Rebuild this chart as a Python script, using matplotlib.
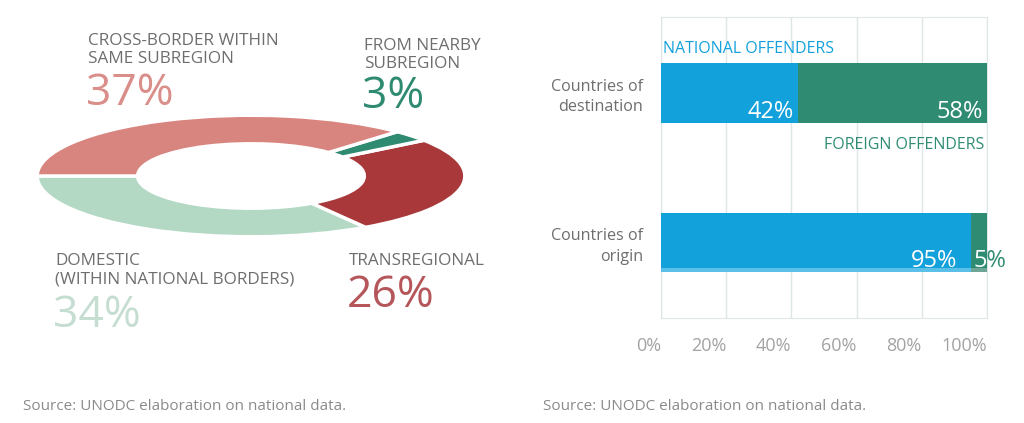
import matplotlib
matplotlib.use("Agg")
from matplotlib import pyplot as plt

plt.rcParams['font.family'] = ['Open Sans', 'DejaVu Sans']

W, H = 1024, 423

# Donut data (share of detected victims by flow)
flows = ['DOMESTIC', 'TRANSREGIONAL', 'FROM NEARBY SUBREGION', 'CROSS-BORDER WITHIN SAME SUBREGION']
shares = [34, 26, 3, 37]
flow_colors = ['#B3D8C4', '#A8383A', '#2E8A70', '#D9857F']

# Bar data
groups = ['Countries of\ndestination', 'Countries of\norigin']
national = [42, 95]
foreign = [58, 5]
ticks = [0, 20, 40, 60, 80, 100]

BLUE = '#13A1DC'
GREEN = '#2F8C73'
GRAY = '#6E6E6E'


def px(x, y):
    return x / W, 1 - y / H


fig = plt.figure(figsize=(W / 100, H / 100), dpi=100)
fig.patch.set_facecolor('white')

# ---- donut (squashed pie) ----
l, t, r, b = 35, 114, 467, 238
ax1 = fig.add_axes([l / W, 1 - b / H, (r - l) / W, (b - t) / H])
ax1.pie(shares, colors=flow_colors, startangle=180, counterclock=True,
        radius=1, wedgeprops=dict(width=0.47, edgecolor='white', linewidth=2.5))
ax1.set_aspect('auto')
ax1.set_xlim(-1.01, 1.01)
ax1.set_ylim(-1.02, 1.02)
ax1.axis('off')

def lab(x, y, s, size=12.3, color=GRAY):
    fig.text(*px(x, y), s, fontsize=size, color=color, va='baseline', ha='left')

lab(88, 45, 'CROSS-BORDER WITHIN')
lab(88, 63, 'SAME SUBREGION')
lab(86, 105, '%d%%' % shares[3], 32, '#D98E89')
lab(364, 50, 'FROM NEARBY')
lab(364, 68, 'SUBREGION')
lab(362, 108, '%d%%' % shares[2], 32, '#2E8A70')
lab(55, 265, 'DOMESTIC')
lab(55, 283, '(WITHIN NATIONAL BORDERS)')
lab(53, 327, '%d%%' % shares[0], 32, '#C6DDD2')
lab(349, 265, 'TRANSREGIONAL')
lab(347, 307, '%d%%' % shares[1], 32, '#B5565A')

# ---- stacked bars ----
l, t, r, b = 661, 17, 987, 318
ax2 = fig.add_axes([l / W, 1 - b / H, (r - l) / W, (b - t) / H])
ypos = [0, 1]
ax2.barh(ypos, national, height=0.4, color=BLUE, zorder=3)
bars_f = ax2.barh(ypos, foreign, left=national, height=0.4, color=GREEN, zorder=3)
# lighter bottom edge on the origin bar
ax2.barh(1.185, national[1], height=0.03, color='#5BC0E8', zorder=4)
ax2.barh(1.185, foreign[1], left=national[1], height=0.03, color='#6FA596', zorder=4)
ax2.set_xlim(0, 100)
ax2.set_ylim(1.505, -0.508)
ax2.set_xticks(ticks)
ax2.set_xticklabels(['%d%%' % v for v in ticks], ha='right')
ax2.tick_params(axis='x', length=0, pad=14, labelsize=13, colors='#A3A3A3')
ax2.set_yticks(ypos)
ax2.set_yticklabels(groups, fontsize=11.6, color=GRAY, linespacing=1.35)
ax2.tick_params(axis='y', length=0, pad=13)
ax2.xaxis.grid(True, color='#DFE6E6', lw=1, zorder=0)
for s in ax2.spines.values():
    s.set_color('#DFE6E6')

for i in ypos:
    ax2.annotate('%d%%' % national[i], (national[i], i + 0.2), xytext=(-4 if i == 0 else -13, 5),
                 textcoords='offset pixels', ha='right', va='baseline',
                 fontsize=17, color='white', zorder=5)
ax2.annotate('%d%%' % foreign[0], (100, 0.2), xytext=(-4, 5), textcoords='offset pixels',
             ha='right', va='baseline', fontsize=17, color='white', zorder=5)
# 5% label: green outside the bar, white where it overlaps the bar
for c, clip in ((GREEN, None), ('white', bars_f[1])):
    tx = ax2.annotate('%d%%' % foreign[1], (national[1], 1.2), xytext=(3, 5),
                      textcoords='offset pixels', ha='left', va='baseline',
                      fontsize=17, color=c, zorder=5, annotation_clip=False)
    if clip is None:
        tx.set_clip_on(False)
    else:
        tx.set_clip_path(clip)

fig.text(*px(663, 53), 'NATIONAL OFFENDERS', fontsize=11.5, color=BLUE, va='baseline')
fig.text(*px(984, 149), 'FOREIGN OFFENDERS', fontsize=11.5, color=GREEN, va='baseline', ha='right')

# sources
fig.text(*px(23, 410), 'Source: UNODC elaboration on national data.', fontsize=11, color='#8A8A8A', va='baseline')
fig.text(*px(543, 410), 'Source: UNODC elaboration on national data.', fontsize=11, color='#8A8A8A', va='baseline')

fig.savefig('out.png', dpi=100, facecolor='white')
